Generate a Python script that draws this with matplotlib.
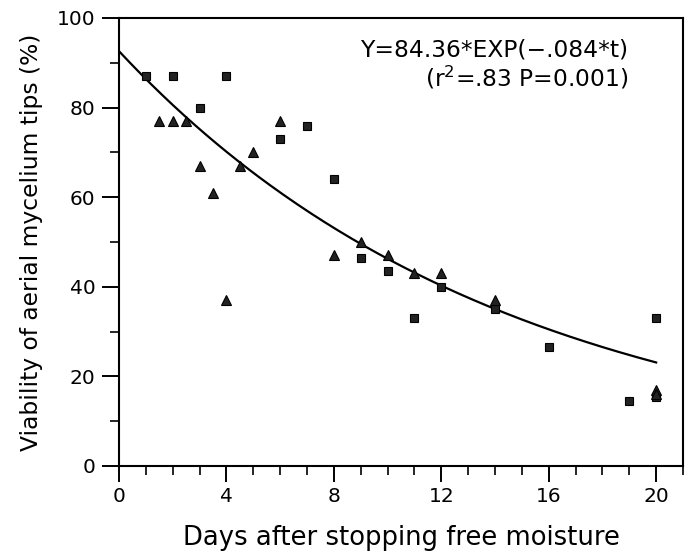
import matplotlib
matplotlib.use("Agg")
import matplotlib.pyplot as plt
from matplotlib.ticker import MultipleLocator
import numpy as np

# squares
sq_days = [1, 2, 4, 3, 6, 7, 8, 9, 10, 11, 12, 14, 16, 19, 20, 20]
sq_viab = [87, 87, 87, 80, 73, 76, 64, 46.5, 43.5, 33, 40, 35, 26.5, 14.5, 33, 15.5]

# triangles
tri_days = [1.5, 2, 2.5, 3, 3.5, 4, 4.5, 5, 6, 8, 9, 10, 11, 12, 14, 20, 20]
tri_viab = [77, 77, 77, 67, 61, 37, 67, 70, 77, 47, 50, 47, 43, 43, 37, 17, 16]

# fitted curve as drawn
fit_a = 92.6
fit_k = 0.0694
fit_t = np.linspace(0, 20, 200)

plt.rcParams['font.family'] = ['DejaVu Sans']

fig = plt.figure(figsize=(6.93, 5.52), dpi=100)
ax = fig.add_axes([0.1717, 0.1558, 0.8139, 0.8116])

ax.plot(fit_t, fit_a * np.exp(-fit_k * fit_t), color='black', lw=1.6)
ax.plot(sq_days, sq_viab, 's', color='#222222', ms=6, mec='black', mew=0.8)
ax.plot(tri_days, tri_viab, '^', color='#222222', ms=6.5, mec='black', mew=0.8)

ax.set_xlim(0, 21)
ax.set_ylim(0, 100)
ax.xaxis.set_major_locator(MultipleLocator(4))
ax.xaxis.set_minor_locator(MultipleLocator(1))
ax.yaxis.set_major_locator(MultipleLocator(20))
ax.yaxis.set_minor_locator(MultipleLocator(10))
ax.set_xticks([0, 4, 8, 12, 16, 20])

for s in ax.spines.values():
    s.set_linewidth(1.5)

ax.tick_params(axis='x', which='major', direction='out', length=11.5, width=1.4,
               labelsize=14.5, pad=3.5)
ax.tick_params(axis='x', which='minor', direction='out', length=6.5, width=1.2)
ax.tick_params(axis='y', which='major', direction='out', length=12, width=1.4,
               labelsize=14.5, pad=5)
ax.tick_params(axis='y', which='minor', direction='out', length=6.5, width=1.2)

ax.set_xlabel('Days after stopping free moisture', fontsize=18.6, labelpad=14)
ax.set_ylabel('Viability of aerial mycelium tips (%)', fontsize=16.8, labelpad=10)

ax.text(0.903, 0.928, 'Y=84.36*EXP(\u2212.084*t)', transform=ax.transAxes,
        ha='right', va='center', fontsize=16.8)
ax.text(0.903, 0.866, '(r$^2$=.83 P=0.001)', transform=ax.transAxes,
        ha='right', va='center', fontsize=16.8)

fig.savefig('out.png', dpi=100)
